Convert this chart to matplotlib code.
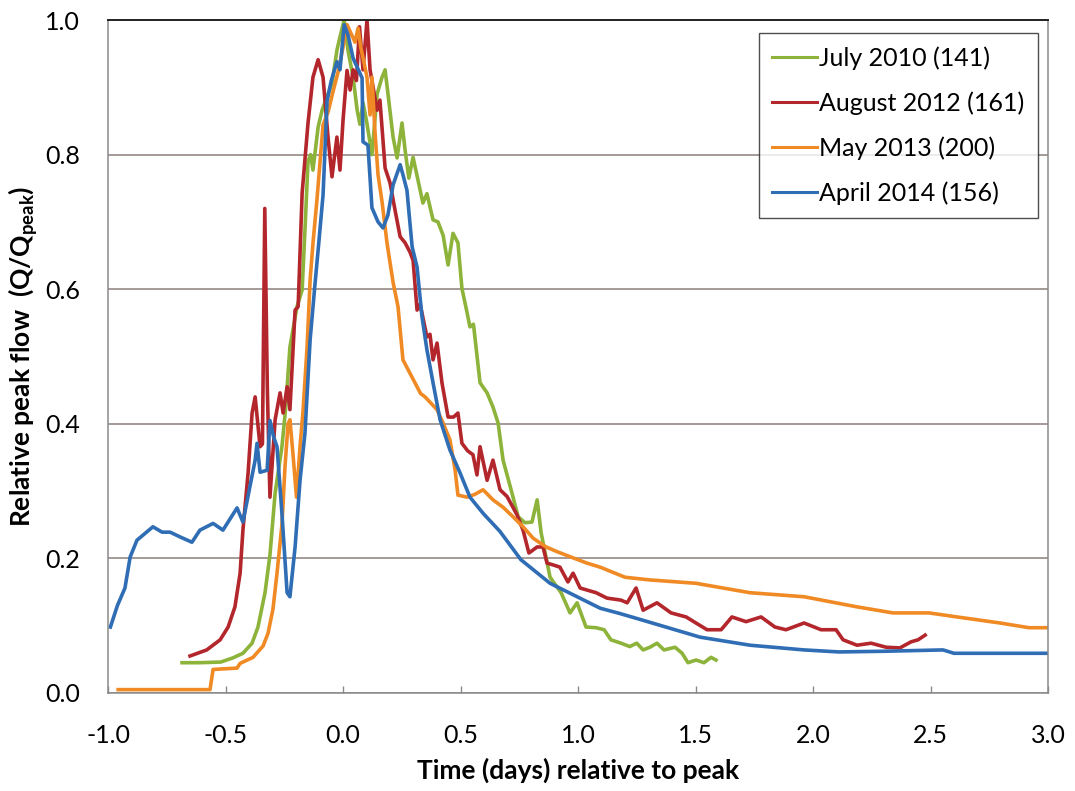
import matplotlib
matplotlib.use('Agg')
import matplotlib.pyplot as plt

# July 2010 (141)
jul2010_t = [-0.685, -0.61, -0.52, -0.47, -0.426, -0.387, -0.362, -0.332, -0.311, -0.289,
             -0.26, -0.245, -0.226, -0.196, -0.174, -0.162, -0.149, -0.138, -0.128, -0.106,
             -0.089, -0.068, -0.047, -0.026, -0.013, 0.005, 0.021, 0.043, 0.060, 0.072,
             0.085, 0.100, 0.123, 0.145, 0.166, 0.179, 0.191, 0.213, 0.23, 0.251,
             0.264, 0.28, 0.298, 0.319, 0.34, 0.357, 0.383, 0.404, 0.426, 0.447,
             0.468, 0.489, 0.506, 0.525, 0.540, 0.555, 0.583, 0.613, 0.638, 0.66,
             0.681, 0.719, 0.745, 0.774, 0.804, 0.826, 0.843, 0.881, 0.928, 0.966,
             0.996, 1.034, 1.077, 1.111, 1.140, 1.183, 1.22, 1.25, 1.277, 1.306,
             1.336, 1.366, 1.413, 1.443, 1.468, 1.502, 1.536, 1.566, 1.587]
jul2010_q = [0.045, 0.045, 0.046, 0.052, 0.059, 0.074, 0.098, 0.149, 0.205, 0.297,
             0.366, 0.42, 0.514, 0.574, 0.599, 0.688, 0.790, 0.80, 0.777, 0.841,
             0.866, 0.886, 0.906, 0.955, 0.975, 1.0, 0.955, 0.915, 0.866, 0.845,
             0.877, 0.85, 0.80, 0.89, 0.915, 0.926, 0.891, 0.826, 0.795, 0.847,
             0.807, 0.765, 0.796, 0.762, 0.728, 0.742, 0.703, 0.700, 0.680, 0.636,
             0.683, 0.669, 0.601, 0.57, 0.544, 0.548, 0.461, 0.446, 0.425, 0.401,
             0.346, 0.297, 0.262, 0.253, 0.254, 0.287, 0.238, 0.172, 0.149, 0.119,
             0.134, 0.098, 0.097, 0.094, 0.079, 0.074, 0.069, 0.074, 0.064, 0.068,
             0.074, 0.064, 0.068, 0.059, 0.045, 0.049, 0.045, 0.053, 0.049]

# August 2012 (161)
aug2012_t = [-0.651, -0.58, -0.523, -0.489, -0.46, -0.438, -0.426, -0.404, -0.387, -0.374,
             -0.353, -0.343, -0.333, -0.322, -0.311, -0.289, -0.268, -0.255, -0.238, -0.226,
             -0.204, -0.191, -0.174, -0.149, -0.128, -0.106, -0.085, -0.064, -0.047, -0.026,
             -0.013, 0.0, 0.017, 0.030, 0.043, 0.057, 0.070, 0.085, 0.102, 0.115,
             0.145, 0.157, 0.179, 0.2, 0.221, 0.243, 0.264, 0.285, 0.298, 0.315,
             0.328, 0.357, 0.37, 0.383, 0.4, 0.421, 0.447, 0.47, 0.489, 0.506,
             0.53, 0.553, 0.570, 0.583, 0.613, 0.638, 0.668, 0.698, 0.74, 0.766,
             0.791, 0.826, 0.851, 0.868, 0.897, 0.923, 0.957, 0.979, 1.009, 1.038,
             1.077, 1.123, 1.183, 1.209, 1.247, 1.277, 1.336, 1.396, 1.46, 1.502,
             1.549, 1.609, 1.655, 1.715, 1.779, 1.838, 1.885, 1.962, 2.034, 2.098,
             2.128, 2.187, 2.247, 2.311, 2.37, 2.417, 2.447, 2.477]
aug2012_q = [0.055, 0.064, 0.079, 0.098, 0.128, 0.178, 0.242, 0.327, 0.416, 0.44,
             0.366, 0.37, 0.72, 0.45, 0.291, 0.406, 0.446, 0.416, 0.455, 0.421,
             0.569, 0.574, 0.743, 0.847, 0.915, 0.941, 0.915, 0.826, 0.767, 0.826,
             0.777, 0.851, 0.925, 0.896, 0.926, 0.91, 0.99, 0.926, 1.0, 0.926,
             0.866, 0.881, 0.78, 0.758, 0.718, 0.678, 0.669, 0.655, 0.643, 0.569,
             0.578, 0.529, 0.533, 0.495, 0.520, 0.461, 0.410, 0.410, 0.416, 0.371,
             0.36, 0.354, 0.324, 0.366, 0.316, 0.346, 0.302, 0.292, 0.265, 0.242,
             0.208, 0.217, 0.217, 0.193, 0.19, 0.187, 0.165, 0.178, 0.156, 0.153,
             0.149, 0.141, 0.138, 0.134, 0.156, 0.123, 0.134, 0.119, 0.113, 0.104,
             0.094, 0.094, 0.113, 0.106, 0.113, 0.098, 0.094, 0.104, 0.094, 0.094,
             0.079, 0.071, 0.074, 0.068, 0.067, 0.076, 0.079, 0.086]

# May 2013 (200)
may2013_t = [-0.957, -0.566, -0.553, -0.451, -0.438, -0.383, -0.34, -0.319, -0.298, -0.281,
             -0.26, -0.247, -0.234, -0.226, -0.213, -0.198, -0.183, -0.17, -0.153, -0.14,
             -0.128, -0.111, -0.085, -0.064, -0.043, -0.021, 0.0, 0.017, 0.034, 0.051,
             0.064, 0.075, 0.085, 0.102, 0.115, 0.123, 0.136, 0.149, 0.166, 0.187,
             0.213, 0.234, 0.255, 0.285, 0.306, 0.33, 0.349, 0.4, 0.426, 0.455,
             0.477, 0.489, 0.528, 0.56, 0.596, 0.638, 0.681, 0.723, 0.766, 0.809,
             0.864, 0.911, 0.97, 1.038, 1.094, 1.2, 1.306, 1.502, 1.732, 1.962,
             2.187, 2.34, 2.494, 2.613, 2.796, 2.919, 3.0]
may2013_q = [0.005, 0.005, 0.035, 0.037, 0.044, 0.053, 0.070, 0.089, 0.125, 0.178,
             0.25, 0.336, 0.40, 0.406, 0.355, 0.291, 0.366, 0.42, 0.514, 0.614,
             0.668, 0.733, 0.844, 0.863, 0.893, 0.923, 0.96, 0.993, 0.98, 0.967,
             0.988, 0.96, 0.944, 0.915, 0.859, 0.915, 0.834, 0.770, 0.73, 0.669,
             0.610, 0.574, 0.495, 0.475, 0.461, 0.445, 0.440, 0.421, 0.401, 0.376,
             0.331, 0.294, 0.291, 0.295, 0.302, 0.287, 0.276, 0.262, 0.247, 0.230,
             0.217, 0.210, 0.202, 0.193, 0.187, 0.172, 0.168, 0.163, 0.149, 0.143,
             0.128, 0.119, 0.119, 0.113, 0.104, 0.097, 0.097]

# April 2014 (156)
apr2014_t = [-0.99, -0.96, -0.928, -0.906, -0.877, -0.809, -0.77, -0.736, -0.694, -0.643,
             -0.609, -0.553, -0.511, -0.451, -0.426, -0.40, -0.374, -0.366, -0.353, -0.323,
             -0.311, -0.295, -0.281, -0.26, -0.238, -0.226, -0.204, -0.183, -0.162, -0.14,
             -0.119, -0.106, -0.085, -0.068, -0.05, -0.026, -0.013, 0.005, 0.021, 0.043,
             0.081, 0.085, 0.106, 0.123, 0.149, 0.17, 0.191, 0.213, 0.243, 0.255,
             0.272, 0.294, 0.315, 0.336, 0.357, 0.383, 0.413, 0.455, 0.498, 0.540,
             0.596, 0.668, 0.757, 0.881, 0.979, 1.094, 1.179, 1.277, 1.519, 1.732,
             1.962, 2.111, 2.3, 2.553, 2.6, 3.0]
apr2014_q = [0.098, 0.13, 0.156, 0.202, 0.227, 0.247, 0.239, 0.239, 0.232, 0.224,
             0.242, 0.252, 0.242, 0.275, 0.254, 0.3, 0.346, 0.371, 0.328, 0.331,
             0.405, 0.38, 0.366, 0.267, 0.149, 0.143, 0.217, 0.316, 0.386, 0.525,
             0.609, 0.658, 0.74, 0.88, 0.91, 0.938, 0.926, 0.993, 0.978, 0.943,
             0.914, 0.819, 0.814, 0.721, 0.700, 0.691, 0.710, 0.755, 0.785, 0.770,
             0.747, 0.663, 0.633, 0.559, 0.510, 0.461, 0.406, 0.361, 0.327, 0.291,
             0.267, 0.240, 0.198, 0.163, 0.146, 0.126, 0.118, 0.108, 0.083, 0.071,
             0.064, 0.061, 0.062, 0.064, 0.059, 0.059]

labels = ['July 2010 (141)', 'August 2012 (161)', 'May 2013 (200)', 'April 2014 (156)']
colors = ['#8db33a', '#b3262c', '#f08a24', '#2f6db5']

plt.rcParams['font.family'] = ['Lato', 'DejaVu Sans']
plt.rcParams['mathtext.fontset'] = 'custom'
plt.rcParams['mathtext.bf'] = 'Lato:bold'

fig = plt.figure(figsize=(10.75, 7.91), dpi=100)
ax = fig.add_axes([0.1005, 0.1239, 0.8744, 0.8508])

series = [(jul2010_t, jul2010_q), (aug2012_t, aug2012_q),
          (may2013_t, may2013_q), (apr2014_t, apr2014_q)]
for (t, q), lab, c in zip(series, labels, colors):
    ax.plot(t, q, color=c, lw=2.6, label=lab, solid_joinstyle='round')

ax.set_xlim(-1.0, 3.0)
ax.set_ylim(0.0, 1.0)
ax.set_xticks([-1.0, -0.5, 0.0, 0.5, 1.0, 1.5, 2.0, 2.5, 3.0])
ax.set_yticks([0.0, 0.2, 0.4, 0.6, 0.8, 1.0])
ax.xaxis.set_major_formatter(matplotlib.ticker.FormatStrFormatter('%.1f'))
ax.yaxis.set_major_formatter(matplotlib.ticker.FormatStrFormatter('%.1f'))
ax.tick_params(axis='x', direction='in', length=5, width=1, color='#8a8a8a',
               labelsize=18, pad=22)
ax.tick_params(axis='y', length=0, labelsize=18, pad=20)

ax.grid(axis='y', color='#8c7f7a', lw=1.1)
ax.set_axisbelow(True)
for side in ['left', 'bottom', 'right']:
    ax.spines[side].set_color('#8a8a8a')
    ax.spines[side].set_linewidth(1.1)
ax.spines['top'].set_color('#222222')
ax.spines['top'].set_linewidth(1.4)

ax.set_xlabel('Time (days) relative to peak', fontsize=19, fontweight='bold', labelpad=8)
ax.set_ylabel(r'Relative peak flow  (Q/Q$_{\mathbf{peak}}$)', fontsize=19,
              fontweight='bold', labelpad=4)

leg = ax.legend(loc='upper right', bbox_to_anchor=(0.989, 0.981), fontsize=18,
                frameon=True, fancybox=False, edgecolor='#222222', handlelength=1.8,
                handletextpad=0.05, labelspacing=0.85, borderpad=0.55, borderaxespad=0)
leg.get_frame().set_linewidth(1.0)
for line in leg.get_lines():
    line.set_linewidth(2.2)

fig.savefig('out.png', dpi=100)
